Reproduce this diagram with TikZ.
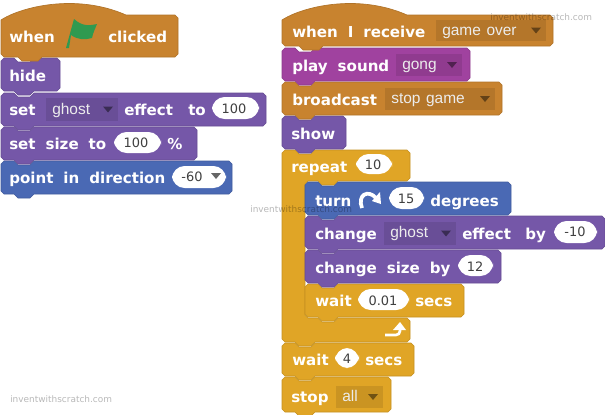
\documentclass[tikz,border=0pt]{standalone}
\usepackage{fontspec}
\setmainfont[WordSpace=1.9]{DejaVu Sans}
\newfontfamily\fieldfont[WordSpace=1.3]{Liberation Sans}
\newfontfamily\numfont{DejaVu Sans}
\definecolor{hatc}{HTML}{C8832F}
\definecolor{purp}{HTML}{7557A8}
\definecolor{blu}{HTML}{4A69B4}
\definecolor{mag}{HTML}{A0429F}
\definecolor{gold}{HTML}{E0A526}
\definecolor{flagc}{HTML}{2F9A50}
\newcommand\blk[5]{%
 \path[fill=#5,draw=#5!88!black,line width=.5]
 (#1,#2+3)--(#1+3,#2)--(#1+13,#2)--(#1+17,#2+4)--(#1+29,#2+4)--(#1+33,#2)--(#3-3,#2)--(#3,#2+3)--(#3,#4-3)--(#3-3,#4)
 --(#1+33,#4)--(#1+29,#4+4)--(#1+17,#4+4)--(#1+13,#4)--(#1+3,#4)--(#1,#4-3)--cycle;}
\newcommand\hatblk[5]{%
 \path[fill=#5,draw=#5!88!black,line width=.5]
 (#1,#2+5) .. controls (#1+20,#2-8) and (#1+75,#2-22) .. (#1+125,#2)--(#3-3,#2)--(#3,#2+3)--(#3,#4-3)--(#3-3,#4)
 --(#1+41,#4)--(#1+37,#4+4)--(#1+21,#4+4)--(#1+17,#4)--(#1+3,#4)--(#1,#4-3)--cycle;}
\newcommand\dd[5]{\path[fill=#5!90!black] (#1,#2) rectangle (#3,#4);
 \path[fill=#5!50!black] (#3-15,{(#2+#4)/2-3})--(#3-5,{(#2+#4)/2-3})--(#3-10,{(#2+#4)/2+3})--cycle;}
\tikzset{
 lbl/.style={anchor=base west,inner sep=0,text=white,font=\fontsize{11.3}{13}\selectfont\bfseries},
 fld/.style={anchor=base west,inner sep=0,text=white!85!gray,font=\fontsize{11.6}{13}\fieldfont},
 num/.style={inner sep=0,text=black!75,font=\fontsize{9.7}{12}\numfont},
 wm/.style={anchor=base west,inner sep=0,text=black,text opacity=.28,font=\fontsize{6.7}{8}\selectfont}
}
\begin{document}
\begin{tikzpicture}[x=0.75pt,y=-0.75pt]
\useasboundingbox (0,0) rectangle (605,414);
\fill[white] (0,0) rectangle (605,414);
% left stack
\blk{1}{161}{232}{194}{blu}
\blk{1}{127}{197}{160}{purp}
\blk{1}{93}{266}{126}{purp}
\blk{1}{58}{60}{91}{purp}
\hatblk{1}{15}{178}{57}{hatc}
\node[lbl] (a1) at (9,42) {when};
\path[fill=flagc] (66,48)--(74,19) .. controls (82,26) and (88,26) .. (97,24) .. controls (95,29) and (93,33) .. (92,38) .. controls (85,40) and (78,40) .. (71,35)--(69,48)--cycle;
\node[lbl] (a2) at (108,42) {clicked};
\node[lbl] (b1) at (9,81) {hide};
\node[lbl] (c1) at (9,115) {set};
\dd{46}{98}{118}{121}{purp}
\node[fld] (c2) at (52,114) {ghost};
\node[lbl] (c3) at (124,115) {effect};
\node[lbl] (c4) at (188,115) {to};
\path[fill=white,rounded corners=9.5] (212,97) rectangle (259,119);
\node[num] (c5) at (234,109) {100};
\node[lbl] (d1) at (9,149) {set size to};
\path[fill=white,rounded corners=9.5] (114,132) rectangle (161,153);
\node[num] (d2) at (136,143) {100};
\node[lbl] (d3) at (167,149) {\%};
\node[lbl] (e1) at (9,183) {point in direction};
\path[fill=white,rounded corners=9.5] (172,166) rectangle (226,188);
\node[num] (e2) at (192,177) {-60};
\path[fill=black!60] (211,173)--(221,173)--(216,179)--cycle;
% right stack
\blk{282}{377}{391}{412}{gold}
\blk{282}{343}{414}{376}{gold}
% repeat C
\path[fill=gold,draw=gold!88!black,line width=.5]
 (282,153)--(285,150)--(295,150)--(299,154)--(311,154)--(315,150)--(407,150)--(410,153)--(410,178)--(407,181)
 --(338,181)--(334,185)--(322,185)--(318,181)--(308,181)--(305,184)--(305,315)--(308,318)--(318,318)--(322,322)--(334,322)--(338,318)
 --(407,318)--(410,321)--(410,339)--(407,342)--(315,342)--(311,346)--(299,346)--(295,342)--(285,342)--(282,339)--cycle;
\blk{305}{284}{464}{317}{gold}
\blk{305}{250}{501}{283}{purp}
\blk{305}{216}{605}{249}{purp}
\blk{305}{182}{511}{215}{blu}
\blk{282}{116}{346}{149}{purp}
\blk{282}{82}{502}{115}{hatc}
\blk{282}{48}{470}{81}{mag}
\hatblk{282}{15}{553}{46}{hatc}
\node[lbl] (f1) at (292,37) {when I receive};
\dd{436}{20}{546}{41}{hatc}
\node[fld] (f2) at (442,35) {game over};
\node[lbl] (g1) at (292,71) {play sound};
\dd{396}{54}{462}{76}{mag}
\node[fld] (g2) at (402,69) {gong};
\node[lbl] (h1) at (292,105) {broadcast};
\dd{385}{88}{495}{110}{hatc}
\node[fld] (h2) at (391,103) {stop game};
\node[lbl] (i1) at (291,139) {show};
\node[lbl] (j1) at (291,172) {repeat};
\path[fill=white,rounded corners=9.5] (356,154) rectangle (392,174);
\node[num] (j2) at (373,165) {10};
\node[lbl] (k1) at (315,206) {turn};
\draw[white,line width=2.8] (362,208) .. controls (357,195) and (368,189) .. (376,198);
\path[fill=white] (372,201)--(381,204)--(380,192)--cycle;
\path[fill=white,rounded corners=9.5] (389,187) rectangle (424,209);
\node[num] (k2) at (406,199) {15};
\node[lbl] (k3) at (430,206) {degrees};
\node[lbl] (l1) at (315,239) {change};
\dd{384}{222}{456}{245}{purp}
\node[fld] (l2) at (390,237) {ghost};
\node[lbl] (l3) at (462,239) {effect};
\node[lbl] (l4) at (525,239) {by};
\path[fill=white,rounded corners=9.5] (554,221) rectangle (597,243);
\node[num] (l5) at (575,232) {-10};
\node[lbl] (m1) at (315,273) {change size by};
\path[fill=white,rounded corners=9.5] (458,255) rectangle (493,276);
\node[num] (m2) at (475,267) {12};
\node[lbl] (n1) at (315,306) {wait};
\path[fill=white,rounded corners=9.5] (358,289) rectangle (409,310);
\node[num] (n2) at (383,301) {0.01};
\node[lbl] (n3) at (415,306) {secs};
\draw[white,line width=2,rounded corners=3] (385,335)--(400,335)--(400,328);
\path[fill=white] (393,330)--(400,322)--(406,330)--cycle;
\node[lbl] (o1) at (292,365) {wait};
\path[fill=white,rounded corners=9.5] (335,348) rectangle (359,368);
\node[num] (o2) at (347,359) {4};
\node[lbl] (o3) at (365,365) {secs};
\node[lbl] (p1) at (291,402) {stop};
\dd{336}{386}{383}{408}{gold}
\node[fld] (p2) at (342,401) {all};
\node[wm] (w1) at (490,20) {inventwithscratch.com};
\node[wm] (w2) at (250,212) {inventwithscratch.com};
\node[wm] (w3) at (10,402) {inventwithscratch.com};
\end{tikzpicture}
\end{document}
